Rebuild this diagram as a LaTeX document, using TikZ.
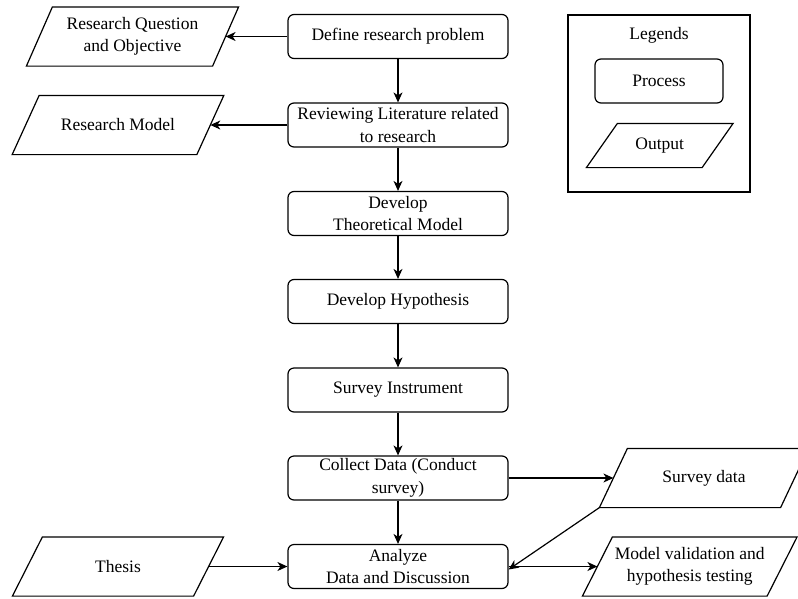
\documentclass[tikz,border=0pt]{standalone}
\usepackage{fontspec}
\setmainfont{Liberation Serif}
\newfontfamily\tnrfont{Liberation Serif}
\usetikzlibrary{arrows.meta}
\newcommand\drawpara[2]{\draw ([xshift=#2]#1.north west) -- ([xshift=#2]#1.north east) -- ([xshift=-#2]#1.south east) -- ([xshift=-#2]#1.south west) -- cycle;}
\begin{document}
\begin{tikzpicture}[x=1pt,y=-1pt,line width=1.2pt,
  every node/.style={font=\tnrfont\fontsize{17.5}{22.5}\selectfont, align=center, inner sep=0pt},
  proc/.style={draw, rounded corners=6pt, minimum width=220pt, minimum height=44pt},
  outp/.style={minimum height=58pt},
  conn/.style={-{Stealth[length=10pt,width=9pt,inset=3pt]}, line width=1.2pt}]
\useasboundingbox (0,0) rectangle (798,598);
\clip (0,0) rectangle (798,598);
% process column
\node[proc] (p1) at (398,36.5) {Define research problem};
\node[proc] (p2) at (398,125) {Reviewing Literature related\\to research};
\node[proc] (p3) at (398,213.5) {Develop\\Theoretical Model};
\node[proc] (p4) at (398,301.5) {Develop Hypothesis};
\node[proc] (p5) at (398,390) {Survey Instrument};
\node[proc] (p6) at (398,478) {Collect Data (Conduct\\survey)};
\node[proc] (p7) at (398,566.5) {Analyze\\Data and Discussion};
% outputs
\node[outp, minimum width=185pt] (o1) at (132.5,36.5) {Research Question\\and Objective};
\drawpara{o1}{13pt}
\node[outp, minimum width=183.5pt] (o2) at (118,125) {Research Model};
\drawpara{o2}{13.5pt}
\node[outp, minimum width=180pt] (o3) at (118,566.5) {Thesis};
\drawpara{o3}{15pt}
\node[outp, minimum width=180pt] (o4) at (704,478) {Survey data};
\drawpara{o4}{14pt}
\node[outp, minimum width=183.5pt] (o5) at (689.75,566.5) {Model validation and\\hypothesis testing};
\drawpara{o5}{15pt}
% legend
\node[draw, minimum width=182pt, minimum height=177pt] (leg) at (659,103.5) {};
\node (legt) at (659,35) {Legends};
\node[proc, minimum width=128pt, minimum height=44pt] (lp) at (659,81) {Process};
\node[minimum width=114.5pt, minimum height=43pt] (lo) at (659.75,145.5) {Output};
\drawpara{lo}{15.5pt}
% connectors
\draw[conn] (p1.west) -- (o1.east);
\draw[conn] (p2.west) -- (o2.east);
\draw[conn] (p1) -- (p2);
\draw[conn] (p2) -- (p3);
\draw[conn] (p3) -- (p4);
\draw[conn] (p4) -- (p5);
\draw[conn] (p5) -- (p6);
\draw[conn] (p6) -- (p7);
\draw[conn] (p6.east) -- (o4.west);
\draw[conn] (o3.east) -- (p7.west);
\draw[conn] ([xshift=-14pt]o4.south west) -- ([yshift=-3pt]p7.east);
\draw[conn] (p7.east) -- (o5.west);
\end{tikzpicture}
\end{document}
